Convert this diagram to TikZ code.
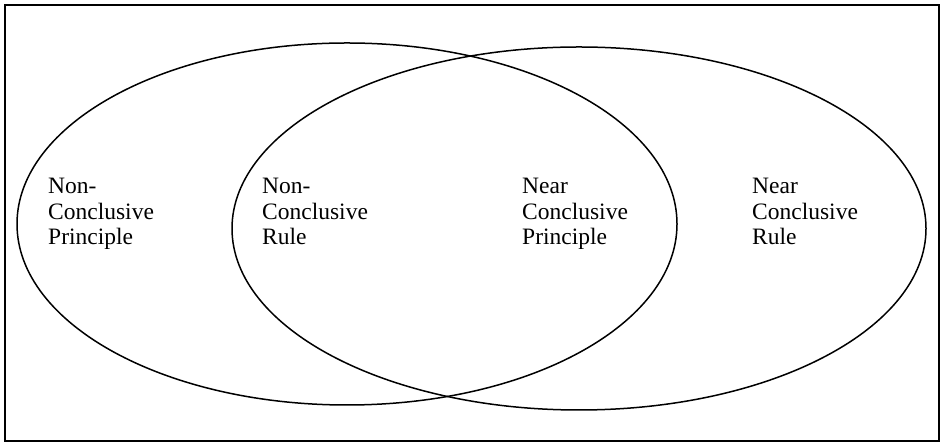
\documentclass[tikz,border=0pt]{standalone}
\usepackage{fontspec}
\setmainfont{Liberation Serif}
\usepackage{xcolor}
\usepackage{tikz}

\tikzset{
  label text/.style={anchor=north west, inner sep=0pt, align=left,
    font=\fontsize{23.5}{25.5}\selectfont},
  set line/.style={line width=1.5pt}
}

\begin{document}
\begin{tikzpicture}[x=1pt, y=1pt]
    \useasboundingbox (0,0) rectangle (941,443);

    % Draw the rectangle border
    \draw[line width=2pt] (5,2) rectangle (939,438);

    % Draw the two sets
    \draw[set line] (347,219) ellipse [x radius=330, y radius=181];
    \draw[set line] (579,214.5) ellipse [x radius=347, y radius=181.5];

    % Add the text
    \node[label text] (ncp) at (48,265) {Non-\\Conclusive\\Principle};
    \node[label text] (ncr) at (262,265) {Non-\\Conclusive\\Rule};
    \node[label text] (nrp) at (522,265) {Near\\Conclusive\\Principle};
    \node[label text] (nrr) at (752,265) {Near\\Conclusive\\Rule};
\end{tikzpicture}
\end{document}
